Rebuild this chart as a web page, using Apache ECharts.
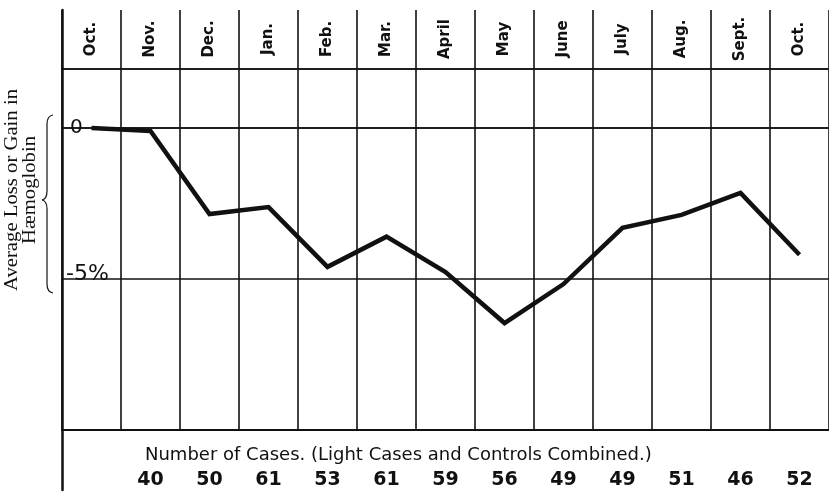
<!DOCTYPE html>
<html>
<head>
<meta charset="utf-8">
<script src="https://cdn.jsdelivr.net/npm/echarts@6/dist/echarts.min.js"></script>
<style>
  html, body { margin: 0; padding: 0; background: #fff; }
  #chart { width: 829px; height: 497px; }
</style>
</head>
<body>
<div id="chart"></div>
<script>
// months across the top
var months = ['Oct.', 'Nov.', 'Dec.', 'Jan.', 'Feb.', 'Mar.', 'April', 'May', 'June', 'July', 'Aug.', 'Sept.', 'Oct.'];
// average loss or gain in haemoglobin, per cent
var change = [0, -0.1, -2.85, -2.62, -4.6, -3.6, -4.77, -6.46, -5.17, -3.31, -2.88, -2.15, -4.2];
// number of cases (light cases and controls combined), none given for the first Oct.
var cases = [null, 40, 50, 61, 53, 61, 59, 56, 49, 49, 51, 46, 52];
// value axis labels
var yTicks = { '0': '0', '-5': '-5%' };

var ink = '#111';
var handFont = 'DejaVu Sans';

var chart = echarts.init(document.getElementById('chart'));

// the curly brace beside the axis title
function brace() {
  var st = { fill: null, stroke: ink, lineWidth: 1.2 };
  return [
    { type: 'bezierCurve', shape: { x1: 53, y1: 115, cpx1: 47, cpy1: 116, x2: 47, y2: 124 }, style: st },
    { type: 'line', shape: { x1: 47, y1: 124, x2: 47, y2: 191 }, style: st },
    { type: 'bezierCurve', shape: { x1: 47, y1: 191, cpx1: 47, cpy1: 199, x2: 42, y2: 200 }, style: st },
    { type: 'bezierCurve', shape: { x1: 42, y1: 200, cpx1: 47, cpy1: 201, x2: 47, y2: 209 }, style: st },
    { type: 'line', shape: { x1: 47, y1: 209, x2: 47, y2: 284 }, style: st },
    { type: 'bezierCurve', shape: { x1: 47, y1: 284, cpx1: 47, cpy1: 292, x2: 53, y2: 293 }, style: st },
  ];
}

chart.setOption({
  backgroundColor: '#fff',
  animation: false,
  grid: [
    // header band with the month names
    { left: 62, right: -4, top: 10, height: 59 },
    // main plot
    { left: 62, right: -4, top: 69, height: 361 },
    // footer band with the case counts
    { left: 62, right: -4, top: 430, height: 60 },
  ],
  xAxis: [
    {
      gridIndex: 0,
      type: 'category',
      position: 'top',
      data: months,
      axisLine: { lineStyle: { color: ink, width: 1.6 } },
      axisTick: { show: false },
      axisLabel: { show: false },
      splitLine: { show: true, lineStyle: { color: ink, width: 1.6 } },
    },
    {
      gridIndex: 1,
      type: 'category',
      position: 'top',
      data: months,
      axisLine: { lineStyle: { color: ink, width: 1.6 } },
      axisTick: { show: false },
      axisLabel: {
        rotate: 90,
        margin: 30,
        align: 'center',
        verticalAlign: 'middle',
        color: ink,
        fontFamily: handFont,
        fontWeight: 'bold',
        fontSize: 15,
        interval: 0,
      },
      splitLine: { show: true, lineStyle: { color: ink, width: 1.6 } },
    },
    {
      gridIndex: 1,
      type: 'category',
      position: 'bottom',
      data: months,
      axisLine: { lineStyle: { color: ink, width: 2 } },
      axisTick: { show: false },
      axisLabel: {
        margin: 41,
        interval: 0,
        color: ink,
        fontFamily: handFont,
        fontWeight: 'bold',
        fontSize: 19,
        formatter: function (v, i) {
          return cases[i] == null ? '' : String(cases[i]);
        },
      },
      splitLine: { show: false },
    },
    {
      gridIndex: 2,
      type: 'category',
      data: months,
      show: false,
    },
  ],
  yAxis: [
    {
      gridIndex: 0,
      type: 'value',
      min: 0,
      max: 1,
      axisLine: { show: true, lineStyle: { color: ink, width: 2.5 } },
      axisTick: { show: false },
      axisLabel: { show: false },
      splitLine: { show: false },
    },
    {
      gridIndex: 1,
      type: 'value',
      min: -10,
      max: 1.95,
      interval: 5,
      axisLine: { show: true, lineStyle: { color: ink, width: 2.5 } },
      axisTick: { show: false },
      axisLabel: {
        inside: true,
        margin: 4,
        color: ink,
        fontFamily: handFont,
        formatter: function (v) {
          var t = yTicks[String(v)];
          if (t === undefined) return '';
          return v === 0 ? '{a|' + t + '}' : '{b|' + t + '}';
        },
        rich: {
          a: { fontSize: 20, fontFamily: handFont, color: ink, padding: [0, 0, 0, 4] },
          b: { fontSize: 22, fontFamily: handFont, color: ink, padding: [0, 0, 10, 0] },
        },
      },
      splitLine: { show: true, lineStyle: { color: ink, width: 1.6 } },
    },
    {
      gridIndex: 2,
      type: 'value',
      axisLine: { show: true, lineStyle: { color: ink, width: 2.5 } },
      axisTick: { show: false },
      axisLabel: { show: false },
      splitLine: { show: false },
    },
  ],
  series: [
    {
      name: 'Haemoglobin',
      type: 'line',
      xAxisIndex: 1,
      yAxisIndex: 1,
      data: change,
      symbol: 'none',
      z: 5,
      lineStyle: { color: ink, width: 4.5, join: 'miter' },
    },
  ],
  graphic: [
    {
      type: 'text',
      x: 21,
      y: 190,
      rotation: Math.PI / 2,
      scaleX: 1.15,
      style: {
        text: 'Average Loss or Gain in\nHæmoglobin',
        align: 'center',
        verticalAlign: 'middle',
        fontFamily: 'Liberation Serif',
        fontSize: 18,
        lineHeight: 18,
        fill: ink,
      },
    },
    {
      type: 'text',
      x: 145,
      y: 455,
      style: {
        text: 'Number of Cases. (Light Cases and Controls Combined.)',
        verticalAlign: 'middle',
        fontFamily: handFont,
        fontSize: 18,
        fill: ink,
      },
    },
  ].concat(brace()),
});
</script>
</body>
</html>
